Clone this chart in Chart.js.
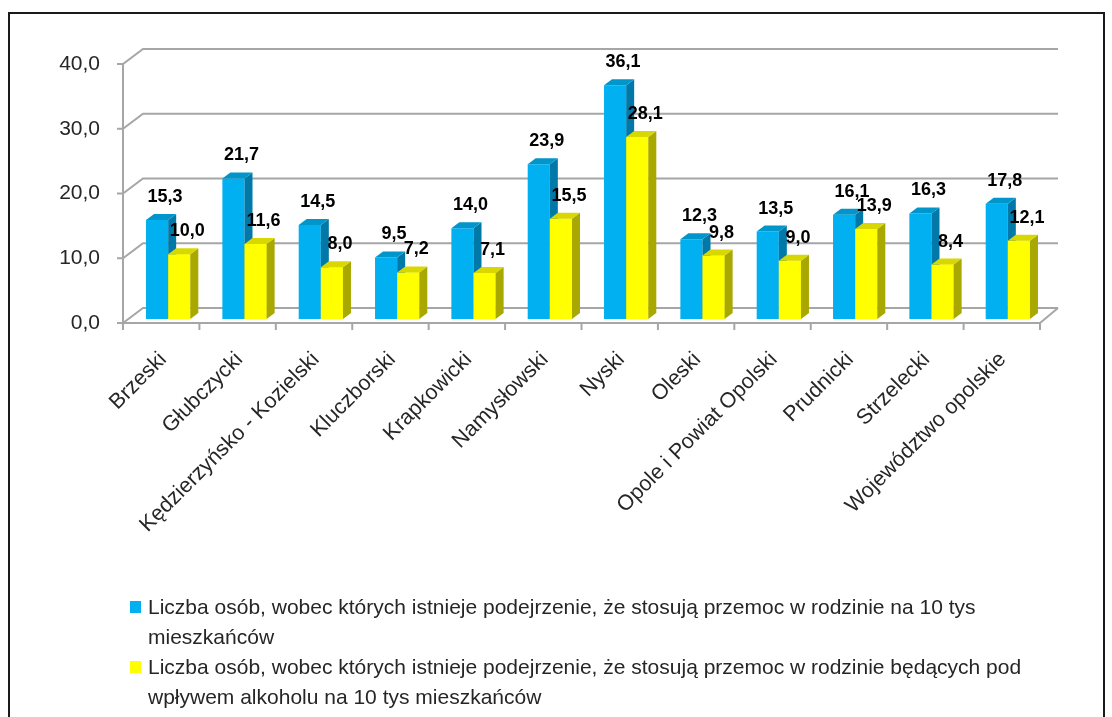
<!DOCTYPE html>
<html>
<head>
<meta charset="utf-8">
<script src="https://cdn.jsdelivr.net/npm/chart.js@4"></script>
<style>
  body { margin: 0; background: #fff; }
  #wrap { position: relative; width: 1112px; height: 717px; overflow: hidden; }
  #frame { position: absolute; left: 8px; top: 12px; width: 1097px; height: 720px; border: 2px solid #1a1a1a; box-sizing: border-box; }
  canvas { position: absolute; left: 0; top: 0; }
  .leg { position: absolute; left: 148px; width: 885px; font: 21px "Liberation Sans", Arial, sans-serif; color: #262626; line-height: 30px; }
  .sq { position: absolute; left: -18px; top: 9px; width: 11px; height: 12px; }
</style>
</head>
<body>
<div id="wrap">
  <div id="frame"></div>
  <canvas id="myChart" width="1112" height="717"></canvas>
  <div class="leg" style="top:592px"><span class="sq" style="background:#00B0F0"></span><span id="l1"></span></div>
  <div class="leg" style="top:652px"><span class="sq" style="background:#FFFF00"></span><span id="l2"></span></div>
</div>
<script>
const categories = ["Brzeski", "Głubczycki", "Kędzierzyńsko - Kozielski", "Kluczborski", "Krapkowicki",
  "Namysłowski", "Nyski", "Oleski", "Opole i Powiat Opolski", "Prudnicki", "Strzelecki", "Województwo opolskie"];
const seriesNames = [
  "Liczba osób, wobec których istnieje podejrzenie, że stosują przemoc w rodzinie na 10 tys mieszkańców",
  "Liczba osób, wobec których istnieje podejrzenie, że stosują przemoc w rodzinie będących pod wpływem alkoholu na 10 tys mieszkańców"
];
const allViolence = [15.3, 21.7, 14.5, 9.5, 14.0, 23.9, 36.1, 12.3, 13.5, 16.1, 16.3, 17.8];
const alcoholViolence = [10.0, 11.6, 8.0, 7.2, 7.1, 15.5, 28.1, 9.8, 9.0, 13.9, 8.4, 12.1];
const yTicks = [0, 10, 20, 30, 40];

document.getElementById("l1").textContent = seriesNames[0];
document.getElementById("l2").textContent = seriesNames[1];

const fmt = v => v.toFixed(1).replace(".", ",");
const sides = [["#0078A8", "#0096CC"], ["#A8A800", "#D8D800"]];
const DX = 8, DY = 6;

// fake 3d: walls, gridlines, side/top faces of the bars
const box3d = {
  id: "box3d",
  beforeDatasetsDraw(chart) {
    const ctx = chart.ctx, y = chart.scales.y, a = chart.chartArea;
    const fl = a.left - 7, bl = a.left + 13, fr = a.right - 6, br = a.right + 12;
    ctx.save();
    ctx.strokeStyle = "#A6A6A6";
    ctx.lineWidth = 2;
    yTicks.forEach(v => {
      const p = y.getPixelForValue(v);
      ctx.beginPath();
      ctx.moveTo(fl - 6, p + 4);
      ctx.lineTo(fl, p + 4);
      ctx.lineTo(bl, p - 11);
      ctx.lineTo(br, p - 11);
      ctx.stroke();
    });
    const p0 = y.getPixelForValue(0), p40 = y.getPixelForValue(40);
    ctx.beginPath();
    ctx.moveTo(fl, p40 + 4);
    ctx.lineTo(fl, p0 + 4);
    ctx.lineTo(fr, p0 + 4);
    ctx.lineTo(br, p0 - 11);
    ctx.stroke();
    const step = (fr - fl) / categories.length;
    for (let i = 0; i <= categories.length; i++) {
      ctx.beginPath();
      ctx.moveTo(fl + i * step, p0 + 4);
      ctx.lineTo(fl + i * step, p0 + 11);
      ctx.stroke();
    }
    ctx.restore();
  },
  afterDatasetsDraw(chart) {
    const ctx = chart.ctx;
    ctx.save();
    [0, 1].forEach(d => {
      chart.getDatasetMeta(d).data.forEach((bar, i) => {
        if (d === 1) bar.draw(ctx);
        const l = bar.x - bar.width / 2, r = bar.x + bar.width / 2, t = bar.y, b = bar.base;
        ctx.fillStyle = sides[d][0];
        ctx.beginPath();
        ctx.moveTo(r, t); ctx.lineTo(r + DX, t - DY); ctx.lineTo(r + DX, b - DY); ctx.lineTo(r, b);
        ctx.closePath(); ctx.fill();
        ctx.fillStyle = sides[d][1];
        ctx.beginPath();
        ctx.moveTo(l, t); ctx.lineTo(l + DX, t - DY); ctx.lineTo(r + DX, t - DY); ctx.lineTo(r, t);
        ctx.closePath(); ctx.fill();
      });
    });
    ctx.fillStyle = "#000";
    ctx.font = "bold 18px 'Liberation Sans', Arial, sans-serif";
    ctx.textAlign = "center";
    ctx.textBaseline = "middle";
    [0, 1].forEach(d => {
      const vals = chart.data.datasets[d].data;
      chart.getDatasetMeta(d).data.forEach((bar, i) => {
        ctx.fillText(fmt(vals[i]), bar.x + 8, bar.y - 23);
      });
    });
    ctx.restore();
  }
};

new Chart("myChart", {
  type: "bar",
  data: {
    labels: categories,
    datasets: [{
      label: seriesNames[0],
      data: allViolence,
      backgroundColor: "#00B0F0",
      borderWidth: 0
    }, {
      label: seriesNames[1],
      data: alcoholViolence,
      backgroundColor: "#FFFF00",
      borderWidth: 0
    }]
  },
  options: {
    responsive: false,
    animation: false,
    events: [],
    layout: { padding: { top: 60, right: 66, left: 0, bottom: 0 } },
    datasets: { bar: { categoryPercentage: 0.58, barPercentage: 1 } },
    plugins: { legend: { display: false }, tooltip: { enabled: false } },
    scales: {
      x: {
        grid: { display: false, drawTicks: false },
        border: { display: false },
        afterFit(s) { s.height = 398; },
        ticks: {
          autoSkip: false, minRotation: 45, maxRotation: 45, padding: 28, labelOffset: -5,
          color: "#262626", font: { family: "'Liberation Sans', Arial, sans-serif", size: 21.5 }
        }
      },
      y: {
        min: 0, max: 40,
        grid: { display: false, drawTicks: false },
        border: { display: false },
        afterFit(s) { s.width = 130; },
        afterBuildTicks(s) { s.ticks = yTicks.map(v => ({ value: v })); },
        ticks: {
          padding: 30, labelOffset: 4,
          callback: v => fmt(v),
          color: "#262626", font: { family: "'Liberation Sans', Arial, sans-serif", size: 21 }
        }
      }
    }
  },
  plugins: [box3d]
});
</script>
</body>
</html>
